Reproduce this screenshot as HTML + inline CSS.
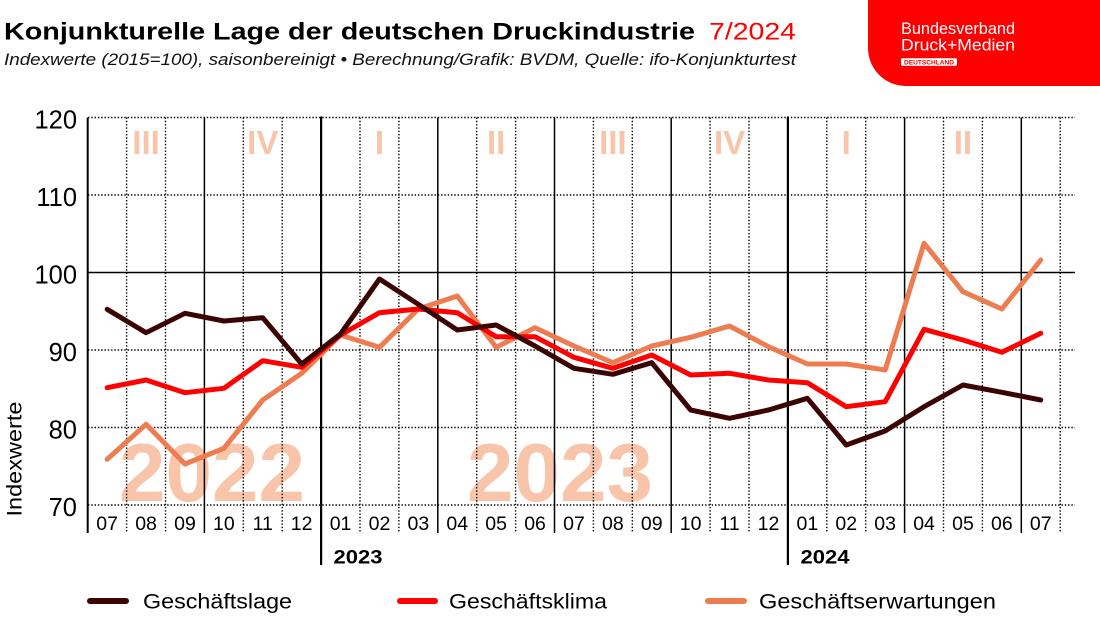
<!DOCTYPE html>
<html><head><meta charset="utf-8"><style>
html,body{margin:0;padding:0;background:#fff;}
svg{display:block;font-family:"Liberation Sans",Arial,sans-serif;}
</style></head><body>
<svg width="1100" height="619" viewBox="0 0 1100 619" xmlns="http://www.w3.org/2000/svg">
<rect width="1100" height="619" fill="#fff"/>
<!-- header -->
<text x="4" y="39.3" font-size="24" font-weight="bold" fill="#000" textLength="691" lengthAdjust="spacingAndGlyphs">Konjunkturelle Lage der deutschen Druckindustrie</text>
<text x="709" y="39.3" font-size="24" fill="#ff0000" textLength="87" lengthAdjust="spacingAndGlyphs">7/2024</text>
<text x="4" y="65" font-size="16.5" font-style="italic" fill="#111" textLength="792" lengthAdjust="spacingAndGlyphs">Indexwerte (2015=100), saisonbereinigt • Berechnung/Grafik: BVDM, Quelle: ifo-Konjunkturtest</text>
<!-- logo -->
<path d="M868 0 H1100 V86 H906 A38 38 0 0 1 868 48 Z" fill="#fe0000"/>
<text x="901" y="34" font-size="17" fill="#fff" textLength="114" lengthAdjust="spacingAndGlyphs">Bundesverband</text>
<text x="901" y="50.7" font-size="17" fill="#fff" textLength="114" lengthAdjust="spacingAndGlyphs">Druck+Medien</text>
<rect x="901" y="58.3" width="56" height="7.6" rx="1.5" fill="#fff"/>
<text x="929" y="64.6" font-size="6.6" font-weight="bold" fill="#fe0000" text-anchor="middle" textLength="50" lengthAdjust="spacingAndGlyphs">DEUTSCHLAND</text>

<!-- watermarks -->
<g fill="#f8c5aa" font-weight="bold" font-size="83" text-anchor="middle">
<text x="212" y="501" textLength="186" lengthAdjust="spacingAndGlyphs">2022</text>
<text x="560" y="501" textLength="186" lengthAdjust="spacingAndGlyphs">2023</text>
</g>
<g fill="#f8c5aa" font-weight="bold" font-size="33" text-anchor="middle">
<text x="146.05" y="154">III</text>
<text x="262.75" y="154">IV</text>
<text x="379.45" y="154">I</text>
<text x="496.15" y="154">II</text>
<text x="612.85" y="154">III</text>
<text x="729.55" y="154">IV</text>
<text x="846.25" y="154">I</text>
<text x="962.95" y="154">II</text>
</g>

<!-- horizontal gridlines -->
<g stroke="#000" stroke-width="1.4" stroke-dasharray="1.4 1.9" fill="none">
<line x1="88" y1="117.5" x2="1075" y2="117.5"/>
<line x1="88" y1="195" x2="1075" y2="195"/>
<line x1="88" y1="350" x2="1075" y2="350"/>
<line x1="88" y1="427.5" x2="1075" y2="427.5"/>
<line x1="88" y1="505" x2="1075" y2="505"/>
</g>
<line x1="88" y1="272.5" x2="1075" y2="272.5" stroke="#000" stroke-width="1.6"/>

<!-- vertical dotted month lines -->
<g stroke="#000" stroke-width="1.4" stroke-dasharray="1.4 1.9" fill="none">
<line x1="126.6" y1="117.5" x2="126.6" y2="533"/>
<line x1="165.5" y1="117.5" x2="165.5" y2="533"/>
<line x1="243.3" y1="117.5" x2="243.3" y2="533"/>
<line x1="282.2" y1="117.5" x2="282.2" y2="533"/>
<line x1="360" y1="117.5" x2="360" y2="533"/>
<line x1="398.9" y1="117.5" x2="398.9" y2="533"/>
<line x1="476.7" y1="117.5" x2="476.7" y2="533"/>
<line x1="515.6" y1="117.5" x2="515.6" y2="533"/>
<line x1="593.4" y1="117.5" x2="593.4" y2="533"/>
<line x1="632.3" y1="117.5" x2="632.3" y2="533"/>
<line x1="710.1" y1="117.5" x2="710.1" y2="533"/>
<line x1="749" y1="117.5" x2="749" y2="533"/>
<line x1="826.8" y1="117.5" x2="826.8" y2="533"/>
<line x1="865.7" y1="117.5" x2="865.7" y2="533"/>
<line x1="943.5" y1="117.5" x2="943.5" y2="533"/>
<line x1="982.4" y1="117.5" x2="982.4" y2="533"/>
<line x1="1060.2" y1="117.5" x2="1060.2" y2="533"/>
</g>
<!-- solid quarter lines -->
<g stroke="#000" stroke-width="1.5">
<line x1="204.4" y1="117.5" x2="204.4" y2="533"/>
<line x1="437.8" y1="117.5" x2="437.8" y2="533"/>
<line x1="554.5" y1="117.5" x2="554.5" y2="533"/>
<line x1="671.2" y1="117.5" x2="671.2" y2="533"/>
<line x1="904.6" y1="117.5" x2="904.6" y2="533"/>
<line x1="1021.3" y1="117.5" x2="1021.3" y2="533"/>
</g>
<line x1="87.7" y1="117.5" x2="87.7" y2="533" stroke="#000" stroke-width="2"/>
<line x1="321.1" y1="116.5" x2="321.1" y2="565" stroke="#000" stroke-width="2.2"/>
<line x1="787.9" y1="116.5" x2="787.9" y2="565" stroke="#000" stroke-width="2.2"/>

<!-- y labels -->
<g font-size="25.5" fill="#000" text-anchor="end">
<text x="77" y="128.5">120</text>
<text x="77" y="206">110</text>
<text x="77" y="283.5">100</text>
<text x="77" y="361">90</text>
<text x="77" y="438.5">80</text>
<text x="77" y="516">70</text>
</g>
<text transform="translate(21.5,459) rotate(-90)" font-size="21" text-anchor="middle" fill="#000" textLength="115" lengthAdjust="spacingAndGlyphs">Indexwerte</text>

<!-- month labels -->
<g font-size="19.5" fill="#000" text-anchor="middle">
<text x="107.15" y="530">07</text>
<text x="146.05" y="530">08</text>
<text x="184.95" y="530">09</text>
<text x="223.85" y="530">10</text>
<text x="262.75" y="530">11</text>
<text x="301.65" y="530">12</text>
<text x="340.55" y="530">01</text>
<text x="379.45" y="530">02</text>
<text x="418.35" y="530">03</text>
<text x="457.25" y="530">04</text>
<text x="496.15" y="530">05</text>
<text x="535.05" y="530">06</text>
<text x="573.95" y="530">07</text>
<text x="612.85" y="530">08</text>
<text x="651.75" y="530">09</text>
<text x="690.65" y="530">10</text>
<text x="729.55" y="530">11</text>
<text x="768.45" y="530">12</text>
<text x="807.35" y="530">01</text>
<text x="846.25" y="530">02</text>
<text x="885.15" y="530">03</text>
<text x="924.05" y="530">04</text>
<text x="962.95" y="530">05</text>
<text x="1001.85" y="530">06</text>
<text x="1040.75" y="530">07</text>
</g>
<g font-size="19" font-weight="bold" fill="#000">
<text x="333.5" y="563.5" textLength="49" lengthAdjust="spacingAndGlyphs">2023</text>
<text x="800.5" y="563.5" textLength="49" lengthAdjust="spacingAndGlyphs">2024</text>
</g>

<!-- series -->
<g fill="none" stroke-width="5" stroke-linejoin="round" stroke-linecap="round">
<polyline stroke="#ee7c51" points="107.15,459.3 146.05,424.3 184.95,464 223.85,448.3 262.75,400 301.65,373.3 340.55,335 379.45,347.3 418.35,309 457.25,296 496.15,347.3 535.05,327.7 573.95,346 612.85,362.7 651.75,346 690.65,337.3 729.55,326 768.45,346.7 807.35,364 846.25,364 885.15,370 924.05,243.3 962.95,291.7 1001.85,309 1040.75,260"/>
<polyline stroke="#ff0000" points="107.15,387.7 146.05,380 184.95,392.7 223.85,388.3 262.75,360.7 301.65,367.3 340.55,335 379.45,312.7 418.35,309 457.25,312.7 496.15,336.7 535.05,336.7 573.95,357.3 612.85,368.3 651.75,355 690.65,375 729.55,373.3 768.45,380 807.35,382.7 846.25,406.7 885.15,401.7 924.05,329.3 962.95,340 1001.85,352.3 1040.75,333.3"/>
<polyline stroke="#3c0303" points="107.15,309.3 146.05,332.7 184.95,313.3 223.85,321 262.75,317.7 301.65,364 340.55,334 379.45,279 418.35,304.3 457.25,330 496.15,325 535.05,346 573.95,368.3 612.85,374.3 651.75,362.7 690.65,410 729.55,418.3 768.45,410 807.35,398.3 846.25,445 885.15,431 924.05,406.7 962.95,385 1001.85,392.3 1040.75,400"/>
</g>

<!-- legend -->
<g stroke-width="6" stroke-linecap="round">
<line x1="90" y1="601" x2="126" y2="601" stroke="#3c0303"/>
<line x1="400" y1="601" x2="435" y2="601" stroke="#ff0000"/>
<line x1="708" y1="601" x2="744" y2="601" stroke="#ee7c51"/>
</g>
<g font-size="21" fill="#000">
<text x="143" y="608.5" textLength="149" lengthAdjust="spacingAndGlyphs">Geschäftslage</text>
<text x="449" y="608.5" textLength="158" lengthAdjust="spacingAndGlyphs">Geschäftsklima</text>
<text x="759" y="608.5" textLength="237" lengthAdjust="spacingAndGlyphs">Geschäftserwartungen</text>
</g>
</svg>
</body></html>
